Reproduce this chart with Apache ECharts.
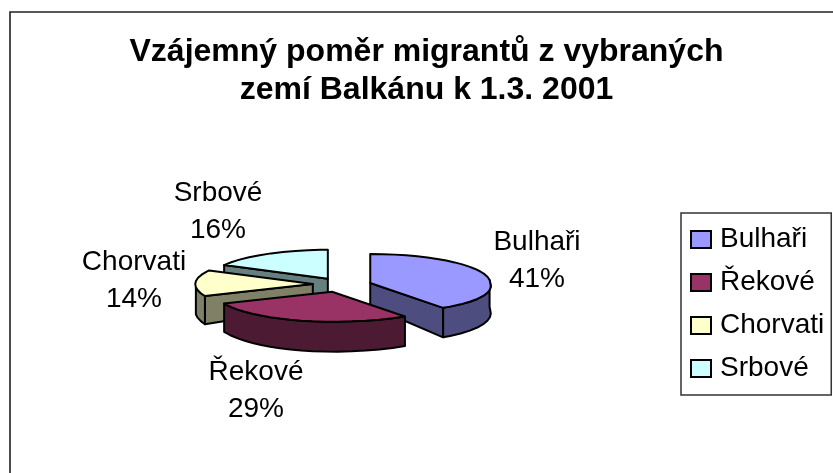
<!DOCTYPE html>
<html>
<head>
<meta charset="utf-8">
<style>
  html, body { margin: 0; padding: 0; background: #fff; }
  #chart { width: 833px; height: 473px; }
</style>
<script src="https://cdn.jsdelivr.net/npm/echarts@6/dist/echarts.min.js"></script>
</head>
<body>
<div id="chart"></div>
<script>
const titleText = 'Vzájemný poměr migrantů z vybraných\nzemí Balkánu k 1.3. 2001'
const categories = ['Bulhaři', 'Řekové', 'Chorvati', 'Srbové']
const percentages = [41, 29, 14, 16]
const topColors = ['#9999ff', '#993366', '#ffffcc', '#ccffff']
const wallColors = ['#4d4d80', '#4d1a33', '#808066', '#668080']

// layout of the tilted pie, in pixels
const pie = { cx: 342, cy: 285, rx: 120, ry: 29, explode: 0.245 }
const labelCenters = [[537, 261], [256, 391], [134, 281], [218, 212]]
const drawOrder = [3, 2, 0, 1] // back to front
const fontFamily = 'Liberation Sans, Arial, sans-serif'

const total = percentages.reduce((a, b) => a + b, 0)
const rad = d => d * Math.PI / 180

// angle correction + slight widening towards the viewer, as excel does for its 3d pie
function project(deg, ox, oy) {
  const s = Math.sin(rad(deg))
  const t = rad(deg - 6 * s * s)
  const front = -Math.cos(t)
  const sin = Math.sin(t)
  const widen = sin > 0 && front > 0 ? 1 + 0.1 * front : 1
  return [
    ox + (sin > 0 ? 1 : 0.98) * pie.rx * sin * widen,
    oy - pie.ry * Math.cos(t) + (front > 0 ? front : 0),
    27 + 3 * Math.max(front, 0)
  ]
}

function sliceShapes(index, api) {
  const before = percentages.slice(0, index).reduce((a, b) => a + b, 0)
  const start = before / total * 360
  const end = (before + api.value(0)) / total * 360
  const mid = rad((start + end) / 2)
  const ox = pie.cx + pie.explode * pie.rx * Math.sin(mid)
  const oy = pie.cy - pie.explode * pie.ry * Math.cos(mid)
  const apex = [ox, oy, 23]

  const arc = (a, b) => {
    const pts = []
    for (let d = a; d < b; d += 6) pts.push(project(d, ox, oy))
    pts.push(project(b, ox, oy))
    return pts
  }
  const down = pts => pts.map(p => [p[0], p[1] + p[2]]).reverse()
  const style = fill => ({ fill: fill, stroke: '#000', lineWidth: 2, lineJoin: 'round' })
  const poly = (points, fill) => ({ type: 'polygon', shape: { points: points }, style: style(fill) })
  const children = []
  const wall = wallColors[index]

  // radial walls turned to the viewer
  const radial = d => {
    const edge = [apex, project(d, ox, oy)]
    children.push(poly(edge.concat(down(edge)), wall))
  }
  if (Math.sin(rad(start)) < -0.001) radial(start)
  if (Math.sin(rad(end)) > 0.001) radial(end)

  // outer wall, only the front half of the rim
  const a = Math.max(start, 90)
  const b = Math.min(end, 270)
  if (a < b) {
    const rim = arc(a, b)
    children.push(poly(rim.concat(down(rim)), wall))
  }

  children.push(poly([apex].concat(arc(start, end)), topColors[index]))

  const c = labelCenters[index]
  children.push({
    type: 'text',
    x: c[0],
    y: c[1],
    style: {
      text: categories[index] + '\n' + api.value(0) + '%',
      x: 0,
      y: 0,
      align: 'center',
      verticalAlign: 'middle',
      fill: '#000',
      font: '28px ' + fontFamily,
      lineHeight: 37
    }
  })
  return { type: 'group', children: children }
}

const chart = echarts.init(document.getElementById('chart'), null, { renderer: 'canvas' })
chart.setOption({
  backgroundColor: '#fff',
  animation: false,
  title: {
    text: titleText,
    left: 421.5,
    top: 28,
    textAlign: 'center',
    textStyle: {
      fontFamily: fontFamily,
      fontSize: 32,
      fontWeight: 'bold',
      color: '#000',
      lineHeight: 38
    }
  },
  legend: {
    data: categories,
    orient: 'vertical',
    left: 681,
    top: 213,
    padding: [12, 7, 12, 9],
    itemWidth: 20,
    itemHeight: 17,
    itemGap: 14,
    borderColor: '#333',
    borderWidth: 1.5,
    icon: 'rect',
    selectedMode: false,
    textStyle: {
      fontFamily: fontFamily,
      fontSize: 28,
      color: '#000',
      padding: [0, 0, 0, 4],
      lineHeight: 29
    }
  },
  graphic: [{
    type: 'rect',
    silent: true,
    z: -1,
    shape: { x: 10, y: 12, width: 900, height: 600 },
    style: { fill: 'none', stroke: '#222', lineWidth: 1.6 }
  }],
  series: drawOrder.map(i => ({
    type: 'custom',
    name: categories[i],
    coordinateSystem: 'none',
    silent: true,
    z: 2 + drawOrder.indexOf(i),
    itemStyle: { color: topColors[i], borderColor: '#000', borderWidth: 2 },
    data: [[percentages[i]]],
    encode: { value: 0 },
    renderItem: (params, api) => sliceShapes(i, api)
  }))
})
</script>
</body>
</html>
